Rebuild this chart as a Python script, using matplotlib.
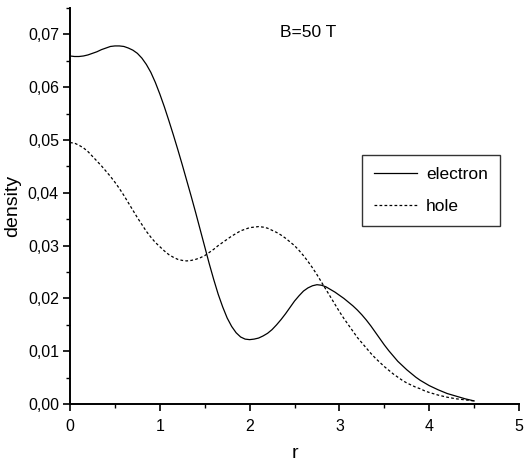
import matplotlib
matplotlib.use("Agg")
import matplotlib.pyplot as plt
from matplotlib.ticker import MultipleLocator, FuncFormatter

plt.rcParams['font.family'] = ['Liberation Sans', 'DejaVu Sans']

r_electron = [0.00, 0.05, 0.10, 0.15, 0.20, 0.25, 0.30, 0.35, 0.40, 0.45,
              0.50, 0.55, 0.60, 0.65, 0.70, 0.75, 0.80, 0.85, 0.90, 0.95,
              1.00, 1.05, 1.10, 1.15, 1.20, 1.25, 1.30, 1.35, 1.40, 1.45,
              1.50, 1.55, 1.60, 1.65, 1.70, 1.75, 1.80, 1.85, 1.90, 1.95,
              2.00, 2.05, 2.10, 2.15, 2.20, 2.25, 2.30, 2.35, 2.40, 2.45,
              2.50, 2.55, 2.60, 2.65, 2.70, 2.75, 2.80, 2.85, 2.90, 2.95,
              3.00, 3.05, 3.10, 3.15, 3.20, 3.25, 3.30, 3.35, 3.40, 3.45,
              3.50, 3.55, 3.60, 3.65, 3.70, 3.75, 3.80, 3.85, 3.90, 3.95,
              4.00, 4.10, 4.20, 4.30, 4.40, 4.50]
density_electron = [0.0659, 0.0658, 0.0658, 0.0659, 0.0661, 0.0664, 0.0667, 0.0671, 0.0674, 0.0677,
                    0.0678, 0.0678, 0.0677, 0.0674, 0.0670, 0.0664, 0.0655, 0.0643, 0.0628, 0.0609,
                    0.0587, 0.0563, 0.0537, 0.0510, 0.0482, 0.0453, 0.0423, 0.0393, 0.0362, 0.0330,
                    0.0298, 0.0266, 0.0236, 0.0208, 0.0184, 0.0163, 0.0147, 0.0135, 0.0127, 0.0123,
                    0.0122, 0.0123, 0.0125, 0.0129, 0.0134, 0.0141, 0.0150, 0.0160, 0.0171, 0.0183,
                    0.0195, 0.0205, 0.0214, 0.0220, 0.0224, 0.0226, 0.0225, 0.0222, 0.0217, 0.0212,
                    0.0206, 0.0200, 0.0193, 0.0186, 0.0178, 0.0169, 0.0159, 0.0148, 0.0136, 0.0124,
                    0.0112, 0.0101, 0.0091, 0.0081, 0.0073, 0.0065, 0.0058, 0.0051, 0.0045, 0.0040,
                    0.0035, 0.0027, 0.0020, 0.0015, 0.0010, 0.0006]

r_hole = [0.00, 0.05, 0.10, 0.15, 0.20, 0.25, 0.30, 0.35, 0.40, 0.45,
          0.50, 0.55, 0.60, 0.65, 0.70, 0.75, 0.80, 0.85, 0.90, 0.95,
          1.00, 1.05, 1.10, 1.15, 1.20, 1.25, 1.30, 1.35, 1.40, 1.45,
          1.50, 1.55, 1.60, 1.65, 1.70, 1.75, 1.80, 1.85, 1.90, 1.95,
          2.00, 2.05, 2.10, 2.15, 2.20, 2.25, 2.30, 2.35, 2.40, 2.45,
          2.50, 2.55, 2.60, 2.65, 2.70, 2.75, 2.80, 2.85, 2.90, 2.95,
          3.00, 3.05, 3.10, 3.15, 3.20, 3.25, 3.30, 3.35, 3.40, 3.45,
          3.50, 3.55, 3.60, 3.65, 3.70, 3.75, 3.80, 3.85, 3.90, 3.95,
          4.00, 4.10, 4.20, 4.30, 4.40, 4.50]
density_hole = [0.0495, 0.0494, 0.0490, 0.0485, 0.0478, 0.0469, 0.0460, 0.0451, 0.0441, 0.0431,
                0.0420, 0.0408, 0.0395, 0.0381, 0.0367, 0.0353, 0.0340, 0.0327, 0.0316, 0.0306,
                0.0298, 0.0290, 0.0283, 0.0278, 0.0274, 0.0272, 0.0271, 0.0272, 0.0274, 0.0277,
                0.0281, 0.0287, 0.0293, 0.0300, 0.0306, 0.0312, 0.0318, 0.0323, 0.0328, 0.0331,
                0.0334, 0.0335, 0.0336, 0.0335, 0.0333, 0.0329, 0.0325, 0.0320, 0.0314, 0.0307,
                0.0300, 0.0291, 0.0281, 0.0270, 0.0258, 0.0245, 0.0231, 0.0217, 0.0203, 0.0189,
                0.0175, 0.0162, 0.0150, 0.0138, 0.0126, 0.0116, 0.0106, 0.0096, 0.0087, 0.0079,
                0.0071, 0.0064, 0.0057, 0.0051, 0.0045, 0.0040, 0.0036, 0.0032, 0.0029, 0.0025,
                0.0022, 0.0017, 0.0013, 0.0010, 0.0008, 0.0006]

series_labels = ["electron", "hole"]
title_text = "B=50 T"
x_label = "r"
y_label = "density"

fig = plt.figure(figsize=(5.32, 4.65), dpi=100)
ax = fig.add_axes([0.1316, 0.131, 0.8440, 0.852])

ax.plot(r_electron, density_electron, color='black', lw=0.9, label=series_labels[0],
        solid_joinstyle='round')
ax.plot(r_hole, density_hole, color='black', lw=0.9, dashes=(2.2, 1.8), label=series_labels[1])

ax.set_xlim(0, 5)
ax.set_ylim(0, 0.075)
for s in ['top', 'right']:
    ax.spines[s].set_visible(False)
for s in ['left', 'bottom']:
    ax.spines[s].set_linewidth(1.4)

ax.xaxis.set_major_locator(MultipleLocator(1))
ax.xaxis.set_minor_locator(MultipleLocator(0.5))
ax.yaxis.set_major_locator(MultipleLocator(0.01))
ax.yaxis.set_minor_locator(MultipleLocator(0.005))
ax.xaxis.set_major_formatter(FuncFormatter(lambda v, p: f"{v:.0f}"))
ax.yaxis.set_major_formatter(FuncFormatter(lambda v, p: f"{v:.2f}".replace('.', ',')))
ax.tick_params(which='major', direction='out', length=5, width=1.2, labelsize=11.5, pad=3)
ax.tick_params(which='minor', direction='out', length=3, width=1.0)
ax.tick_params(axis='x', pad=6)

ax.set_xlabel(x_label, fontsize=14, labelpad=8)
ax.set_ylabel(y_label, fontsize=14, labelpad=5)
ax.text(0.468, 0.937, title_text, transform=ax.transAxes, fontsize=12.5, ha='left', va='center')

leg = ax.legend(loc='upper left', bbox_to_anchor=(0.65, 0.629), fontsize=12.5,
                frameon=True, fancybox=False, shadow=False, handlelength=2.5,
                handletextpad=0.5, borderpad=0.7, labelspacing=0.95, borderaxespad=0)
leg.get_frame().set_edgecolor('black')
leg.get_frame().set_linewidth(1.0)

fig.savefig("out.png", dpi=100)
